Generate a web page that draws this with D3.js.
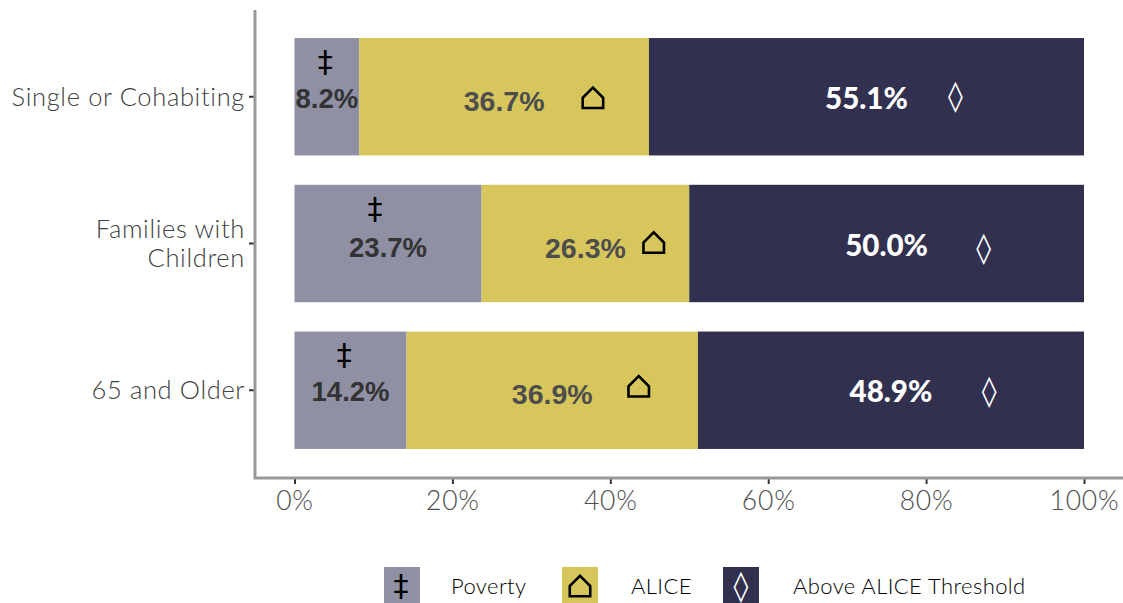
<!DOCTYPE html>
<html><head><meta charset="utf-8">
<script src="https://cdn.jsdelivr.net/npm/d3@7"></script>
<style>html,body{margin:0;padding:0;background:#fff;overflow:hidden}svg{display:block}</style>
</head><body><svg id="c" width="1123" height="603"></svg>
<script>
const categories = ["Single or Cohabiting", "Families with\nChildren", "65 and Older"];
const seriesNames = ["Poverty", "ALICE", "Above ALICE Threshold"];
const poverty = [8.2, 23.7, 14.2];
const alice = [36.7, 26.3, 36.9];
const above = [55.1, 50.0, 48.9];
const xTicks = [0, 20, 40, 60, 80, 100];
const icons = ["\u2021", null, "\u25CA"];
const colors = ["#8f90a3", "#d6c65b", "#32304f"];
const labelColors = ["#333333", "#4d4d4d", "#ffffff"];
const iconColors = ["#000000", "#000000", "#ffffff"];
// where the hand-placed symbols sit along the percent axis
const povertyIconAt = [3.9, 10.2, 6.3];
const aliceIconAt = [37.8, 45.5, 43.6];
const aboveIconAt = [83.7, 87.3, 88.0];
// vertical nudges from the bar centre, pixels
const labelNudge = [[2,4,1],[4,4,1],[1,4,0]];
const iconNudge = [[-35,1,-1],[-35,-1,4],[-36,-4,0]];

const sans = "Lato, 'Open Sans', sans-serif";
const svg = d3.select("#c");
const x = d3.scaleLinear().domain([0,100]).range([294.5,1084]);
const band = d3.scaleBand().domain(categories).range([8.7,478.3]).padding(0.2);
const series = [poverty, alice, above];
const iconAt = [povertyIconAt, aliceIconAt, aboveIconAt];

// pentagon house outline, centred on the origin
const houseSymbol = {draw(ctx, size){
  const r = Math.sqrt(size)/2;
  ctx.moveTo(-r, r); ctx.lineTo(-r, 0); ctx.lineTo(0, -r); ctx.lineTo(r, 0); ctx.lineTo(r, r); ctx.closePath();
}};
function drawIcon(k, px, py){
  if (k === 1) {
    svg.append("path").attr("transform",`translate(${px},${py})`)
      .attr("d", d3.symbol(houseSymbol, 420)())
      .attr("fill","none").attr("stroke",iconColors[k]).attr("stroke-width",2.6);
  } else {
    svg.append("text").attr("x",px).attr("y",py)
      .attr("text-anchor","middle").attr("dominant-baseline","central")
      .attr("font-family","'DejaVu Sans', sans-serif").attr("font-size",30)
      .attr("fill",iconColors[k]).text(icons[k]);
  }
}

categories.forEach((c,i)=>{
  let start = 0;
  series.forEach((s,k)=>{
    const v = s[i];
    svg.append("rect").attr("x",x(start)).attr("y",band(c))
      .attr("width",x(start+v)-x(start)).attr("height",band.bandwidth())
      .attr("fill",colors[k]);
    const cy = band(c)+band.bandwidth()/2;
    svg.append("text").attr("x",x(start+v/2)).attr("y",cy+labelNudge[i][k])
      .attr("text-anchor","middle").attr("dominant-baseline","central")
      .attr("font-family", k===2 ? sans : "'Liberation Sans', Arial, sans-serif")
      .attr("font-weight",k===2?900:700).attr("font-size",k===0?27.5:k===1?28.5:29.5)
      .attr("fill",labelColors[k]).text(v.toFixed(1)+"%");
    drawIcon(k, x(iconAt[k][i]), cy+iconNudge[i][k]);
    start += v;
  });
});

// axes
const gx = svg.append("g").attr("transform","translate(0,478)")
  .call(d3.axisBottom(x).tickValues(xTicks).tickFormat(d=>d+"%").tickSize(6).tickPadding(7));
gx.select(".domain").remove();
gx.selectAll("line").attr("stroke","#333").attr("stroke-width",2);
gx.selectAll("text").attr("font-family",sans).attr("font-weight",300).attr("font-size",26.5).attr("fill","#4d4d4d").attr("letter-spacing",0.8);

const gy = svg.append("g").attr("transform","translate(255,0)")
  .call(d3.axisLeft(band).tickSize(6).tickPadding(4).tickFormat(""));
gy.select(".domain").remove();
gy.selectAll("line").attr("stroke","#333").attr("stroke-width",2);
gy.selectAll(".tick text").each(function(d){
  const t = d3.select(this), lines = d.split("\n");
  t.text(null).attr("font-family",sans).attr("font-weight",300).attr("font-size",25.5).attr("fill","#404040").attr("letter-spacing",0.65).attr("dy",null);
  lines.forEach((l,j)=>t.append("tspan").attr("x",-10).attr("y",(j-(lines.length-1)/2)*29+9).text(l));
});
svg.append("path").attr("d",d3.line()([[255,10],[255,478],[1123,478]]))
  .attr("fill","none").attr("stroke","#999").attr("stroke-width",3);

// legend
const legendKeyX = d3.scaleOrdinal().domain(seriesNames).range([384,562,723]);
const legendTextX = d3.scaleOrdinal().domain(seriesNames).range([451,631,793]);
seriesNames.forEach((n,k)=>{
  svg.append("rect").attr("x",legendKeyX(n)).attr("y",567).attr("width",36).attr("height",36).attr("fill",colors[k]);
  drawIcon(k, legendKeyX(n)+(k===0?17:18), k===1?586:585);
  svg.append("text").attr("x",legendTextX(n)).attr("y",585).attr("dominant-baseline","central")
    .attr("font-family",sans).attr("font-weight",300).attr("font-size",22).attr("letter-spacing",0.4).attr("fill","#000").text(n);
});
</script></body></html>
